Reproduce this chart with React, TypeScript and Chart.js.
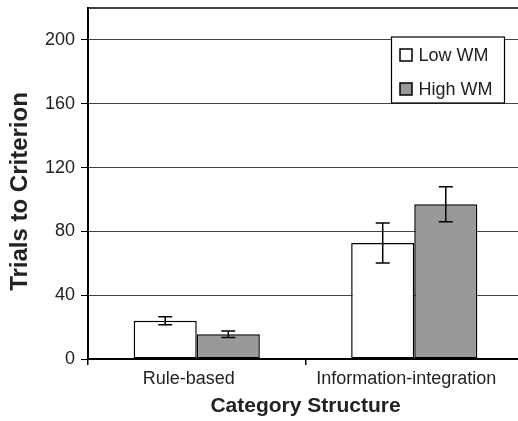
import React, { useEffect, useRef } from "react";
import { Chart, registerables } from "chart.js";

Chart.register(...registerables);

const categories = ["Rule-based", "Information-integration"];
const seriesNames = ["Low WM", "High WM"];
const lowWM = [24, 72.7];
const highWM = [15.5, 97];
const lowWMErr = [2.5, 12.5];
const highWMErr = [2.1, 11];
const yTicks = [0, 40, 80, 120, 160, 200];
const yMin = 0;
const yMax = 220;
const xTitle = "Category Structure";
const yTitle = "Trials to Criterion";

const FONT = "'Liberation Sans', Arial, Helvetica, sans-serif";
const fillColors = ["#ffffff", "#999999"];
const errorsBySeries = [lowWMErr, highWMErr];

const errorBarsPlugin = {
  id: "errorBars",
  afterDatasetsDraw(chart: any) {
    const ctx = chart.ctx;
    const y = chart.scales.y;
    chart.data.datasets.forEach((ds: any, di: number) => {
      const meta = chart.getDatasetMeta(di);
      const errs = errorsBySeries[di];
      meta.data.forEach((bar: any, i: number) => {
        const v = ds.data[i];
        const e = errs[i];
        const x = bar.x;
        const yt = y.getPixelForValue(v + e);
        const yb = y.getPixelForValue(v - e);
        ctx.save();
        ctx.strokeStyle = "#000";
        ctx.lineWidth = 1.5;
        ctx.beginPath();
        ctx.moveTo(x, yt);
        ctx.lineTo(x, yb);
        ctx.moveTo(x - 7, yt);
        ctx.lineTo(x + 7, yt);
        ctx.moveTo(x - 7, yb);
        ctx.lineTo(x + 7, yb);
        ctx.stroke();
        ctx.restore();
      });
    });
  },
};

const framePlugin = {
  id: "frameAndLegend",
  afterDraw(chart: any) {
    const ctx = chart.ctx;
    const a = chart.chartArea;
    ctx.save();
    // top border
    ctx.strokeStyle = "#000";
    ctx.lineWidth = 1.5;
    ctx.beginPath();
    ctx.moveTo(a.left, a.top);
    ctx.lineTo(a.right, a.top);
    ctx.stroke();

    // y-axis title
    ctx.save();
    ctx.translate(20, a.top + (a.bottom - a.top) / 2 + 8);
    ctx.rotate(-Math.PI / 2);
    ctx.font = `bold 24px ${FONT}`;
    ctx.fillStyle = "#222";
    ctx.textAlign = "center";
    ctx.textBaseline = "middle";
    ctx.fillText(yTitle, 0, 0);
    ctx.restore();

    // legend box
    const bx = a.left + 303.5;
    const by = a.top + 29;
    const bw = 113;
    const bh = 66;
    ctx.fillStyle = "#fff";
    ctx.fillRect(bx, by, bw, bh);
    ctx.strokeStyle = "#000";
    ctx.lineWidth = 1.2;
    ctx.strokeRect(bx, by, bw, bh);
    ctx.font = `18px ${FONT}`;
    ctx.textBaseline = "middle";
    ctx.textAlign = "left";
    seriesNames.forEach((name, i) => {
      const cy = by + 18 + i * 34;
      ctx.fillStyle = fillColors[i];
      ctx.fillRect(bx + 8.5, cy - 6, 12, 12);
      ctx.strokeStyle = "#000";
      ctx.lineWidth = 1.5;
      ctx.strokeRect(bx + 8.5, cy - 6, 12, 12);
      ctx.fillStyle = "#222";
      ctx.fillText(name, bx + 27, cy + 1);
    });
    ctx.restore();
  },
};

export default function App() {
  const ref = useRef<HTMLCanvasElement>(null);
  useEffect(() => {
    document.body.style.margin = "0";
    document.body.style.overflow = "hidden";
    Chart.defaults.font.family = FONT;
    Chart.defaults.color = "#222";
    const chart = new Chart(ref.current!, {
      type: "bar",
      data: {
        labels: categories,
        datasets: [
          {
            label: seriesNames[0],
            data: lowWM,
            backgroundColor: fillColors[0],
            borderColor: "#000",
            borderWidth: 1.5,
            borderSkipped: false,
          },
          {
            label: seriesNames[1],
            data: highWM,
            backgroundColor: fillColors[1],
            borderColor: "#000",
            borderWidth: 1.5,
            borderSkipped: false,
          },
        ],
      },
      options: {
        responsive: false,
        animation: false,
        layout: { padding: { left: 0, top: 8, right: 5, bottom: 0 } },
        plugins: {
          legend: { display: false },
          tooltip: { enabled: false },
        },
        datasets: {
          bar: { categoryPercentage: 0.58, barPercentage: 1 },
        },
        scales: {
          x: {
            grid: {
              drawOnChartArea: false,
              drawTicks: true,
              tickLength: 6,
              tickColor: "#000",
              lineWidth: 1.5,
            },
            border: { color: "#000", width: 2 },
            ticks: {
              font: { size: 18, family: FONT },
              color: "#222",
              padding: 3,
              labelOffset: -8,
              maxRotation: 0,
              autoSkip: false,
            },
            title: {
              display: true,
              text: xTitle,
              font: { size: 21, weight: "bold", family: FONT },
              color: "#222",
              padding: { top: 0, bottom: 2 },
            },
            afterFit: (s: any) => {
              s.height = 62;
              s.paddingLeft = 0;
              s.paddingRight = 0;
            },
          },
          y: {
            min: yMin,
            max: yMax,
            afterBuildTicks: (s: any) => {
              s.ticks = yTicks.map((v) => ({ value: v }));
            },
            grid: {
              color: "#444",
              lineWidth: 1,
              tickLength: 7,
              tickColor: "#000",
              drawTicks: true,
            },
            border: { color: "#000", width: 2 },
            ticks: {
              font: { size: 18, family: FONT },
              color: "#222",
              padding: 6,
            },
            title: { display: false },
            afterFit: (s: any) => {
              s.width = 88;
              s.paddingTop = 0;
              s.paddingBottom = 0;
            },
          },
        },
      },
      plugins: [errorBarsPlugin, framePlugin],
    } as any);
    return () => chart.destroy();
  }, []);
  return (
    <div style={{ width: 518, height: 421, overflow: "hidden", position: "relative" }}>
      <canvas ref={ref} width={528} height={421} style={{ display: "block", width: 528, height: 421 }} />
    </div>
  );
}
